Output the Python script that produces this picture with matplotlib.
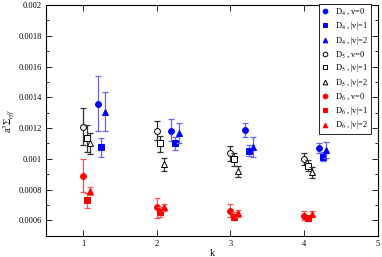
import numpy as np
import matplotlib
matplotlib.use("Agg")
import matplotlib.pyplot as plt
from matplotlib.ticker import MultipleLocator

plt.rcParams['font.family'] = ['Liberation Serif', 'DejaVu Serif']
plt.rcParams['mathtext.fontset'] = 'stix'

k = np.array([1, 2, 3, 4])

# values: (value, upper error, lower error)
d4_v0 = [0.001358, 0.001183, 0.001187, 0.001068]
d4_v0_hi = [0.001536, 0.001259, 0.001235, 0.001100]
d4_v0_lo = [0.001180, 0.001116, 0.001140, 0.001036]
d4_v1 = [0.001079, 0.001100, 0.001053, 0.001014]
d4_v1_hi = [0.001137, 0.001140, 0.001090, 0.001042]
d4_v1_lo = [0.001014, 0.001057, 0.001018, 0.000988]
d4_v2 = [0.001306, 0.001166, 0.001075, 0.001057]
d4_v2_hi = [0.001432, 0.001231, 0.001144, 0.001107]
d4_v2_lo = [0.001180, 0.001100, 0.001010, 0.001003]

d5_v0 = [0.001209, 0.001183, 0.001040, 0.000997]
d5_v0_hi = [0.001332, 0.001246, 0.001085, 0.001036]
d5_v0_lo = [0.001088, 0.001122, 0.000986, 0.000960]
d5_v1 = [0.001133, 0.001100, 0.000997, 0.000955]
d5_v1_hi = [0.001220, 0.001150, 0.001036, 0.000992]
d5_v1_lo = [0.001046, 0.001046, 0.000953, 0.000923]
d5_v2 = [0.001100, 0.000966, 0.000923, 0.000912]
d5_v2_hi = [0.001170, 0.001007, 0.000953, 0.000945]
d5_v2_lo = [0.001030, 0.000921, 0.000880, 0.000877]

d6_v0 = [0.000888, 0.000685, 0.000663, 0.000628]
d6_v0_hi = [0.000997, 0.000743, 0.000706, 0.000660]
d6_v0_lo = [0.000782, 0.000617, 0.000624, 0.000602]
d6_v1 = [0.000732, 0.000656, 0.000624, 0.000613]
d6_v1_hi = [0.000780, 0.000689, 0.000656, 0.000630]
d6_v1_lo = [0.000682, 0.000624, 0.000600, 0.000598]
d6_v2 = [0.000790, 0.000685, 0.000646, 0.000641]
d6_v2_hi = [0.000819, 0.000704, 0.000667, 0.000660]
d6_v2_lo = [0.000765, 0.000663, 0.000624, 0.000620]

series = [
    ("D$_{4'}$, v=0", 0.20, d4_v0, d4_v0_hi, d4_v0_lo, 'o', 'blue', 'blue', '#6666ff'),
    ("D$_{4'}$, |v|=1", 0.25, d4_v1, d4_v1_hi, d4_v1_lo, 's', 'blue', 'blue', '#6666ff'),
    ("D$_{4'}$, |v|=2", 0.30, d4_v2, d4_v2_hi, d4_v2_lo, '^', 'blue', 'blue', '#6666ff'),
    ("D$_{5'}$, v=0", 0.00, d5_v0, d5_v0_hi, d5_v0_lo, 'o', 'white', 'black', '#333333'),
    ("D$_{5'}$, |v|=1", 0.05, d5_v1, d5_v1_hi, d5_v1_lo, 's', 'white', 'black', '#333333'),
    ("D$_{5'}$, |v|=2", 0.10, d5_v2, d5_v2_hi, d5_v2_lo, '^', 'white', 'black', '#333333'),
    ("D$_{6'}$, v=0", 0.00, d6_v0, d6_v0_hi, d6_v0_lo, 'o', 'red', 'red', '#ff5555'),
    ("D$_{6'}$, |v|=1", 0.05, d6_v1, d6_v1_hi, d6_v1_lo, 's', 'red', 'red', '#ff5555'),
    ("D$_{6'}$, |v|=2", 0.10, d6_v2, d6_v2_hi, d6_v2_lo, '^', 'red', 'red', '#ff5555'),
]

fig = plt.figure(figsize=(3.82, 2.57), dpi=100)
ax = fig.add_axes([0.1204, 0.083, 0.869, 0.8975])

for label, off, y, hi, lo, mk, fc, ec, errc in series:
    y = np.array(y)
    yerr = [y - np.array(lo), np.array(hi) - y]
    ax.errorbar(k + off, y, yerr=yerr, fmt='none', ecolor=errc, elinewidth=0.9,
                capsize=2.5, capthick=0.9)
    ax.plot(k + off, y, linestyle='none', marker=mk, markersize=4.2,
            markerfacecolor=fc, markeredgecolor=ec, markeredgewidth=0.7, label=label)

ax.set_xlim(0.5, 5)
ax.set_ylim(0.0005, 0.002)
ax.xaxis.set_major_locator(MultipleLocator(1))
ax.yaxis.set_minor_locator(MultipleLocator(0.0001))
ax.set_yticks([0.0006, 0.0008, 0.001, 0.0012, 0.0014, 0.0016, 0.0018, 0.002])
ax.set_yticklabels(['0.0006', '0.0008', '0.001', '0.0012', '0.0014', '0.0016', '0.0018', '0.002'])
ax.tick_params(which='both', direction='in', top=True, right=True, labelsize=6, width=0.6, pad=3)
ax.tick_params(which='major', length=4)
ax.tick_params(which='minor', length=2)
for s in ax.spines.values():
    s.set_linewidth(0.8)

ax.set_xlabel('k', fontsize=7, labelpad=1)
ax.set_ylabel(r'a$^3\Sigma_{eff}$', fontsize=7, labelpad=2)

leg = ax.legend(loc='upper right', bbox_to_anchor=(371 / 382, 1 - 4 / 257),
                bbox_transform=fig.transFigure, fontsize=6, frameon=True, fancybox=False,
                edgecolor='black', framealpha=1, borderpad=0.35, labelspacing=0.32,
                handlelength=0.9, handletextpad=0.7, borderaxespad=0, markerscale=0.8)
leg.get_frame().set_linewidth(0.6)

fig.savefig('out.png', dpi=100)
